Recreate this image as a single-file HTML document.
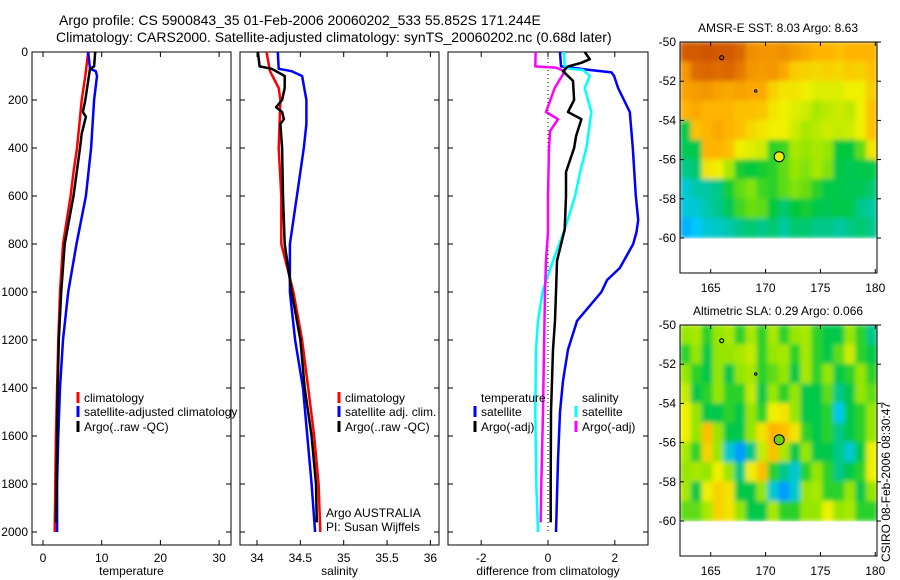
<!DOCTYPE html>
<html><head><meta charset="utf-8"><style>
body{margin:0;background:#fff;}
svg{display:block;font-family:"Liberation Sans",sans-serif;}
</style></head><body>
<svg id="c" width="900" height="580" xmlns="http://www.w3.org/2000/svg">
<defs>
<filter id="bl" x="0" y="0" width="1" height="1"><feGaussianBlur stdDeviation="2.5" edgeMode="duplicate"/></filter>
<clipPath id="cp1"><rect x="680" y="42" width="197" height="197"/></clipPath>
<clipPath id="cp2"><rect x="680" y="325" width="197" height="197"/></clipPath>
<clipPath id="legclip"><rect x="0" y="380" width="240" height="60"/></clipPath>
</defs>
<text x="59" y="25" font-size="14">Argo profile: CS 5900843_35 01-Feb-2006 20060202_533 55.852S 171.244E</text>
<text x="56" y="42" font-size="14">Climatology: CARS2000. Satellite-adjusted climatology: synTS_20060202.nc (0.68d later)</text>
<g id="g"></g>
<text transform="translate(890,562) rotate(-90)" font-size="12">CSIRO 08-Feb-2006 08:30:47</text>
</svg>
<script>
// ---- data ----
const depthTicks=[0,200,400,600,800,1000,1200,1400,1600,1800,2000];
const tempTicks=[0,10,20,30];
const salTicks=[34,34.5,35,35.5,36];
const diffTicks=[-2,0,2];
const tempClimDepth=[0,100,200,300,400,500,600,800,1000,1200,1400,1600,1800,2000];
const tempClim=[7.7,7.2,6.6,6.2,5.8,5.2,4.7,3.4,2.9,2.6,2.4,2.2,2.1,2.0];
const tempSatDepth=[0,70,80,100,200,400,600,800,1000,1200,1400,1600,1800,2000];
const tempSat=[7.7,8.0,9.0,9.2,8.7,8.2,7.3,5.7,4.3,3.4,2.9,2.6,2.4,2.4];
const tempArgoDepth=[0,60,70,200,250,270,340,400,600,800,1000,1200,1400,1800,1960];
const tempArgo=[8.9,8.7,8.0,7.2,6.8,7.3,6.6,6.3,5.2,3.7,3.1,2.7,2.5,2.3,2.2];
const salClimDepth=[0,80,150,200,400,600,800,1000,1200,1400,1600,1800,2000];
const salClim=[34.11,34.15,34.25,34.27,34.25,34.28,34.28,34.42,34.52,34.59,34.66,34.71,34.73];
const salSatDepth=[0,70,80,100,200,300,400,600,800,1000,1200,1400,1600,1800,2000];
const salSat=[34.24,34.25,34.40,34.52,34.57,34.57,34.54,34.46,34.38,34.38,34.44,34.53,34.58,34.63,34.67];
const salArgoDepth=[0,60,70,100,150,200,230,250,280,300,400,600,800,1000,1200,1400,1600,1800,1960];
const salArgo=[34.01,34.03,34.17,34.32,34.32,34.29,34.22,34.29,34.31,34.27,34.29,34.30,34.32,34.40,34.50,34.55,34.63,34.68,34.69];
const dSalArgoDepth=[0,60,65,80,100,150,250,280,330,400,600,750,870,1000,1240,1500,1800,1960];
const dSalArgo=[-0.37,-0.38,0.24,0.5,0.42,0.2,-0.06,0.3,0.06,0.03,0,0,-0.06,-0.09,-0.12,-0.15,-0.2,-0.22];
const dTempArgoDepth=[0,30,45,60,80,120,200,250,280,350,400,500,600,740,870,1000,1120,1240,1370,1500,1800,1960];
const dTempArgo=[1.1,1.25,1.0,0.6,0.45,0.75,0.78,0.6,1.0,0.84,0.78,0.54,0.54,0.5,0.27,0.24,0.21,0.15,0.12,0.09,0.08,0.08];
const dSalSatDepth=[0,60,70,75,100,150,250,400,500,600,740,870,990,1120,1240,1500,1800,2000];
const dSalSat=[0.48,0.5,0.66,1.05,1.25,1.1,1.3,1.15,0.96,0.81,0.5,0.15,-0.15,-0.3,-0.36,-0.38,-0.35,-0.3];
const dTempSatDepth=[0,60,75,85,100,150,250,400,600,700,750,800,900,950,1000,1120,1240,1370,1500,1700,2000];
const dTempSat=[0.36,0.39,1.26,1.9,1.98,2.1,2.45,2.54,2.63,2.7,2.65,2.55,2.15,1.77,1.6,0.87,0.6,0.45,0.36,0.3,0.24];
const mapLonTicks=[165,170,175,180];
const mapLatTicks=[-50,-52,-54,-56,-58,-60];
const sstGrid=[
[0.95,0.95,0.96,0.95,0.95,0.93,0.86,0.85,0.85,0.86,0.84,0.82,0.8,0.8,0.78,0.8,0.8,0.8],
[0.85,0.92,0.93,0.92,0.93,0.9,0.85,0.84,0.85,0.82,0.76,0.75,0.74,0.75,0.74,0.76,0.75,0.78],
[0.83,0.84,0.85,0.83,0.82,0.83,0.82,0.82,0.75,0.72,0.72,0.7,0.68,0.68,0.68,0.7,0.7,0.76],
[0.8,0.82,0.8,0.8,0.8,0.78,0.78,0.77,0.72,0.7,0.68,0.66,0.62,0.64,0.66,0.64,0.7,0.78],
[0.45,0.78,0.8,0.82,0.8,0.78,0.74,0.72,0.7,0.7,0.66,0.62,0.64,0.66,0.65,0.66,0.7,0.78],
[0.44,0.45,0.8,0.8,0.78,0.7,0.68,0.66,0.5,0.52,0.62,0.6,0.62,0.6,0.46,0.46,0.55,0.72],
[0.4,0.42,0.72,0.7,0.62,0.48,0.46,0.48,0.5,0.55,0.6,0.58,0.62,0.58,0.45,0.44,0.45,0.45],
[0.3,0.36,0.38,0.4,0.48,0.55,0.58,0.52,0.5,0.55,0.58,0.56,0.5,0.45,0.45,0.44,0.44,0.42],
[0.28,0.3,0.36,0.4,0.44,0.52,0.56,0.55,0.46,0.42,0.46,0.48,0.45,0.44,0.45,0.45,0.4,0.38],
[0.18,0.22,0.3,0.32,0.36,0.4,0.42,0.4,0.42,0.38,0.42,0.42,0.4,0.4,0.38,0.4,0.42,0.4]];
const slaGrid=[
[0.6,0.62,0.5,0.6,0.62,0.5,0.62,0.5,0.62,0.5,0.6,0.62,0.5,0.45,0.45,0.6,0.5,0.4],
[0.5,0.6,0.45,0.6,0.6,0.62,0.65,0.5,0.6,0.62,0.5,0.62,0.5,0.45,0.55,0.66,0.5,0.45],
[0.6,0.5,0.45,0.6,0.45,0.6,0.62,0.5,0.55,0.6,0.45,0.62,0.5,0.6,0.45,0.5,0.6,0.5],
[0.65,0.45,0.5,0.6,0.5,0.5,0.65,0.45,0.6,0.5,0.6,0.45,0.45,0.55,0.4,0.45,0.6,0.55],
[0.7,0.6,0.45,0.45,0.5,0.45,0.6,0.5,0.7,0.72,0.6,0.45,0.45,0.5,0.25,0.45,0.5,0.6],
[0.7,0.6,0.78,0.6,0.45,0.45,0.6,0.72,0.8,0.78,0.72,0.5,0.45,0.5,0.4,0.45,0.5,0.6],
[0.62,0.5,0.75,0.6,0.3,0.15,0.4,0.65,0.78,0.62,0.45,0.6,0.45,0.45,0.4,0.3,0.45,0.7],
[0.6,0.62,0.6,0.7,0.6,0.4,0.7,0.78,0.5,0.4,0.3,0.5,0.6,0.5,0.4,0.45,0.5,0.7],
[0.62,0.45,0.7,0.75,0.72,0.45,0.45,0.6,0.3,0.15,0.3,0.6,0.62,0.5,0.5,0.6,0.45,0.6],
[0.55,0.55,0.62,0.75,0.72,0.6,0.45,0.45,0.62,0.5,0.5,0.6,0.6,0.7,0.6,0.62,0.5,0.5]];
const argoLon=171.244, argoLat=-55.852;

// ---- drawing ----
const NS='http://www.w3.org/2000/svg';
const G=document.getElementById('g');
function el(tag,attrs,parent){const e=document.createElementNS(NS,tag);for(const k in attrs)e.setAttribute(k,attrs[k]);(parent||G).appendChild(e);return e;}
const TOP=52, BOT=545;
const yD=d=>TOP+0.24*d;
const panels=[
 {x0:32,x1:231,f:v=>43+5.87*v,ticks:tempTicks,lab:'temperature',name:'temperature-panel'},
 {x0:240,x1:439,f:v=>257+86.7*(v-34),ticks:salTicks,lab:'salinity',name:'salinity-panel'},
 {x0:448,x1:648,f:v=>548+33.4*v,ticks:diffTicks,lab:'difference from climatology',name:'difference-panel'}];
panels.forEach((p,i)=>{
  const r=el('rect',{x:p.x0,y:TOP,width:p.x1-p.x0,height:BOT-TOP,fill:'#fff',stroke:'#000','stroke-width':1});
  
  
  p.ticks.forEach(t=>{const x=p.f(t);
    el('line',{x1:x,x2:x,y1:BOT,y2:BOT-5,stroke:'#000'});el('line',{x1:x,x2:x,y1:TOP,y2:TOP+5,stroke:'#000'});
    const tx=el('text',{x:x,y:BOT+17,'font-size':12,'text-anchor':'middle'});tx.textContent=t;
    
    });
  depthTicks.forEach(d=>{const y=yD(d);
    el('line',{x1:p.x0,x2:p.x0+5,y1:y,y2:y,stroke:'#000'});el('line',{x1:p.x1,x2:p.x1-5,y1:y,y2:y,stroke:'#000'});
    if(i==0){const tx=el('text',{x:28,y:y+4,'font-size':12,'text-anchor':'end'});tx.textContent=d;
      
      }});
  const lt=el('text',{x:(p.x0+p.x1)/2,y:575,'font-size':12,'text-anchor':'middle'});lt.textContent=p.lab;
  
  
});
function line(p,ds,vs,col,name){
  const pts=ds.map((d,k)=>p.f(vs[k]).toFixed(1)+','+yD(d).toFixed(1)).join(' ');
  const l=el('polyline',{points:pts,fill:'none',stroke:col,'stroke-width':2.5,'stroke-linejoin':'round'});
  
  
}
const zl=el('line',{x1:548,x2:548,y1:TOP+2,y2:yD(2000),stroke:'#000','stroke-dasharray':'1,3'});


line(panels[0],tempClimDepth,tempClim,'#f00','temp-climatology-line');
line(panels[0],tempSatDepth,tempSat,'#00f','temp-satellite-line');
line(panels[0],tempArgoDepth,tempArgo,'#000','temp-argo-line');
line(panels[1],salClimDepth,salClim,'#f00','sal-climatology-line');
line(panels[1],salSatDepth,salSat,'#00f','sal-satellite-line');
line(panels[1],salArgoDepth,salArgo,'#000','sal-argo-line');
line(panels[2],dTempSatDepth,dTempSat,'#00f','diff-temp-satellite-line');
line(panels[2],dSalSatDepth,dSalSat,'#0ff','diff-sal-satellite-line');
line(panels[2],dSalArgoDepth,dSalArgo,'#f0f','diff-sal-argo-line');
line(panels[2],dTempArgoDepth,dTempArgo,'#000','diff-temp-argo-line');
function leg(x,y,col,txt,clip){
  if(col){const b=el('line',{x1:x,x2:x,y1:y-10,y2:y+1,stroke:col,'stroke-width':3});
    
    }
  const t=el('text',{x:x+6,y:y,'font-size':12});t.textContent=txt;
  if(clip)t.setAttribute('clip-path','url(#legclip)');
  
  
}
leg(78,402,'#f00','climatology',1);leg(78,416,'#00f','satellite-adjusted climatology',1);leg(78,431,'#000','Argo(..raw -QC)',1);
leg(339,402,'#f00','climatology');leg(339,416,'#00f','satellite adj. clim.');leg(339,431,'#000','Argo(..raw -QC)');
leg(475,402,null,'temperature');leg(475,416,'#00f','satellite');leg(475,431,'#000','Argo(-adj)');
leg(576,402,null,'salinity');leg(576,416,'#0ff','satellite');leg(576,431,'#f0f','Argo(-adj)');
[['Argo AUSTRALIA',517],['PI: Susan Wijffels',531]].forEach(a=>{const t=el('text',{x:326,y:a[1],'font-size':12});t.textContent=a[0];
  
  });

// maps
function cmap(v){const stops=[[0,[0,60,255]],[0.22,[0,200,255]],[0.38,[0,200,160]],[0.46,[0,200,60]],[0.6,[150,230,0]],[0.7,[240,240,0]],[0.8,[255,180,0]],[0.9,[230,120,0]],[1,[190,60,0]]];
  for(let i=1;i<stops.length;i++){if(v<=stops[i][0]){const a=stops[i-1],b=stops[i],t=(v-a[0])/(b[0]-a[0]);
    return 'rgb('+a[1].map((c,j)=>Math.round(c+(b[1][j]-c)*t)).join(',')+')';}}return 'rgb(190,60,0)';}
function map(top,grid,title,clip,dotCol,name){
  const lx=lon=>680+(lon-162.2)*10.97, ly=lat=>top+(-50-lat)*19.6;
  const g=el('g',{'clip-path':'url(#'+clip+')'});
  
  
  const gi=el('g',{filter:'url(#bl)'},g);
  grid.forEach((row,r)=>row.forEach((v,c)=>{
    const cell=el('rect',{x:lx(162.2+c)-0.3,y:ly(-50-r)-0.3,width:11.6,height:20.2,fill:cmap(v)},gi);
    
    }));
  const fr=el('rect',{x:680,y:top,width:197,height:231,fill:'none',stroke:'#000'});
  
  
  mapLonTicks.forEach(t=>{const x=lx(t);el('line',{x1:x,x2:x,y1:top,y2:top+4,stroke:'#000'});el('line',{x1:x,x2:x,y1:top+231,y2:top+227,stroke:'#000'});
    const tx=el('text',{x:x,y:top+250,'font-size':12,'text-anchor':'middle'});tx.textContent=t;
    
    });
  mapLatTicks.forEach(t=>{const y=ly(t);el('line',{x1:877,x2:881,y1:y,y2:y,stroke:'#000'});el('line',{x1:680,x2:684,y1:y,y2:y,stroke:'#000'});
    const tx=el('text',{x:676,y:y+4,'font-size':12,'text-anchor':'end'});tx.textContent=t;
    
    });
  el('circle',{cx:lx(166),cy:ly(-50.8),r:2,fill:'none',stroke:'#000','stroke-width':1.2});
  el('circle',{cx:lx(169.1),cy:ly(-52.5),r:1.2,fill:'none',stroke:'#000'});
  const dot=el('circle',{cx:lx(argoLon),cy:ly(argoLat),r:5,fill:dotCol,stroke:'#000'});
  
  
  const tt=el('text',{x:778,y:top-10,'font-size':12,'text-anchor':'middle'});tt.textContent=title;
  
  
}
map(42,sstGrid,'AMSR-E SST: 8.03 Argo: 8.63','cp1','#e6f000','sst-map');
map(325,slaGrid,'Altimetric SLA: 0.29 Argo: 0.066','cp2','#70d000','sla-map');
</script>
</body></html>
